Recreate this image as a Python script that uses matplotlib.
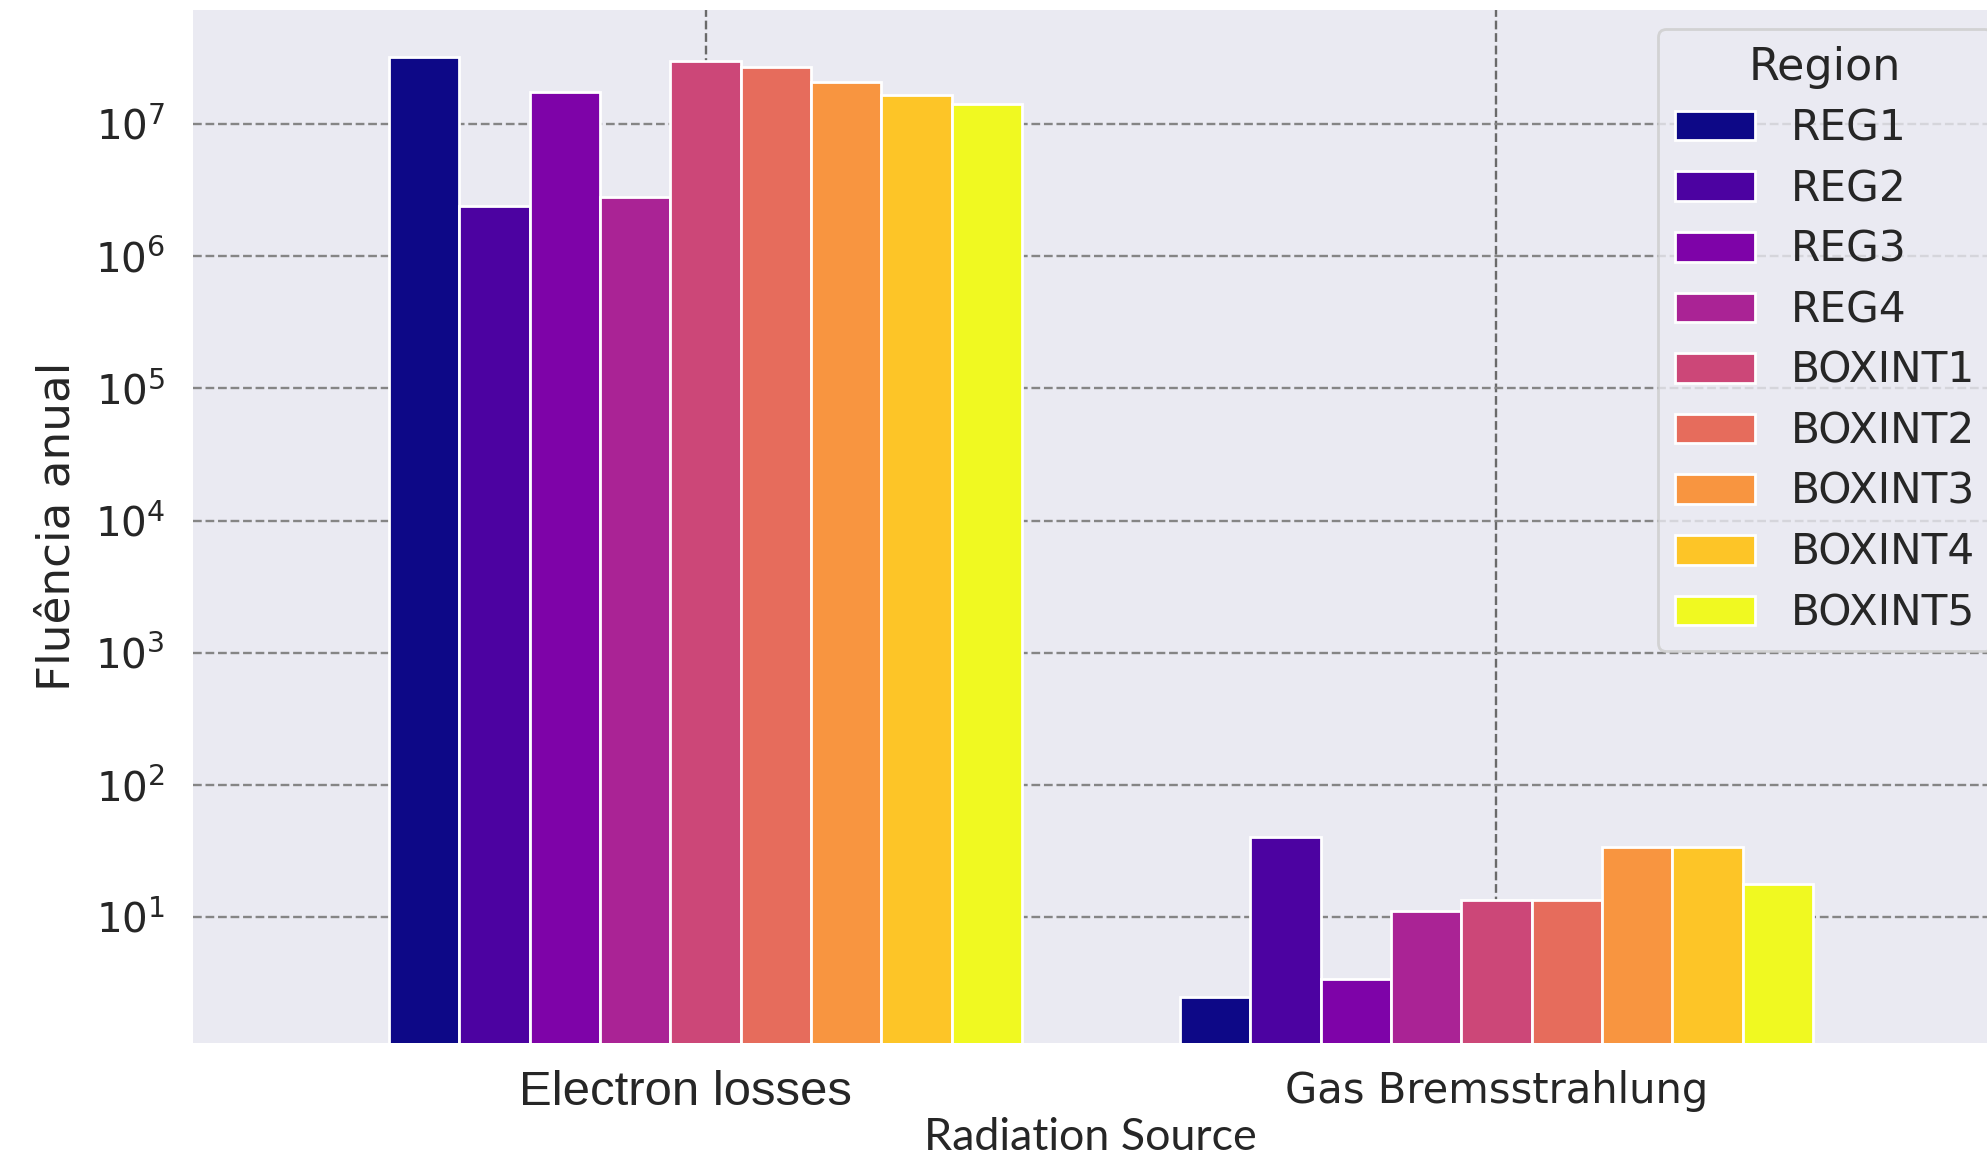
import numpy as np
import matplotlib
matplotlib.use('Agg')
from matplotlib import pyplot as plt
from matplotlib.patches import Patch
from matplotlib.transforms import ScaledTranslation

# annual fluence per region, for each radiation source
sources = ['Electron losses', 'Gas Bremsstrahlung']
regions = ['REG1', 'REG2', 'REG3', 'REG4',
           'BOXINT1', 'BOXINT2', 'BOXINT3', 'BOXINT4', 'BOXINT5']

electron_losses = [3.24e7, 2.39e6, 1.76e7, 2.83e6,
                   3.01e7, 2.69e7, 2.09e7, 1.65e7, 1.42e7]
gas_brems = [2.5, 40.8, 3.39, 11.1, 13.4, 13.4, 34.0, 34.0, 17.9]

fluence = np.array([electron_losses, gas_brems])  # shape (source, region)

colors = plt.colormaps['plasma'](np.linspace(0, 1, len(regions)))

fig = plt.figure(figsize=(9.935, 5.795), dpi=200)
ax = fig.add_axes([0.0971, 0.1001, 0.914, 0.8913])
ax.set_facecolor('#EAEAF2')
for s in ax.spines.values():
    s.set_visible(False)

x = np.arange(len(sources))
w = 0.8 / len(regions)
for i, reg in enumerate(regions):
    ax.bar(x + (i - (len(regions) - 1) / 2) * w, fluence[:, i], width=w,
           color=colors[i], edgecolor='white', linewidth=1.0, zorder=2)

ax.set_yscale('log')
ax.set_ylim(1.12, 7.3e7)
ax.set_xlim(-0.648, 1.648)
ax.set_yticks([10.0 ** k for k in range(1, 8)])
ax.yaxis.set_minor_locator(matplotlib.ticker.NullLocator())

ax.set_axisbelow(True)
ax.grid(True, axis='y', linestyle='--', color='#858585', linewidth=0.85)
ax.grid(True, axis='x', linestyle='--', color='#6a6a6a', linewidth=0.85)

ax.tick_params(axis='both', length=0, labelcolor='#262626')
ax.tick_params(axis='y', labelsize=14.6, pad=10)
ax.tick_params(axis='x', pad=9.8)

ax.set_xticks(x)
ax.set_xticklabels(sources)
tl = ax.get_xticklabels()
tl[0].set_fontfamily('Liberation Sans')
tl[0].set_fontsize(17.7)
tl[0].set_transform(tl[0].get_transform() + ScaledTranslation(-0.1, 0, fig.dpi_scale_trans))
tl[1].set_fontfamily('DejaVu Sans')
tl[1].set_fontsize(15.0)

ax.set_xlabel('Radiation Source', fontfamily='Lato', fontsize=16.1,
              color='#262626', labelpad=0.5)
ax.xaxis.label.set_transform(ax.xaxis.label.get_transform()
                             + ScaledTranslation(-0.055, 0, fig.dpi_scale_trans))
ax.set_ylabel('Fluência anual', fontsize=16.3, color='#262626', labelpad=6)

handles = [Patch(facecolor=colors[i], edgecolor='white', linewidth=1.0)
           for i in range(len(regions))]
leg = ax.legend(handles, regions, title='Region', loc='upper left',
                bbox_to_anchor=(1658 / 1987, 1 - 29 / 1159),
                bbox_transform=fig.transFigure, borderaxespad=0,
                fontsize=15.2, title_fontsize=16.0, labelspacing=0.44,
                handlelength=1.9, handletextpad=0.85, frameon=True,
                facecolor='#EAEAF2', edgecolor='#cccccc', framealpha=0.8)
for t in leg.get_texts():
    t.set_color('#262626')
leg.get_title().set_color('#262626')

fig.savefig('out.png', dpi=200)
